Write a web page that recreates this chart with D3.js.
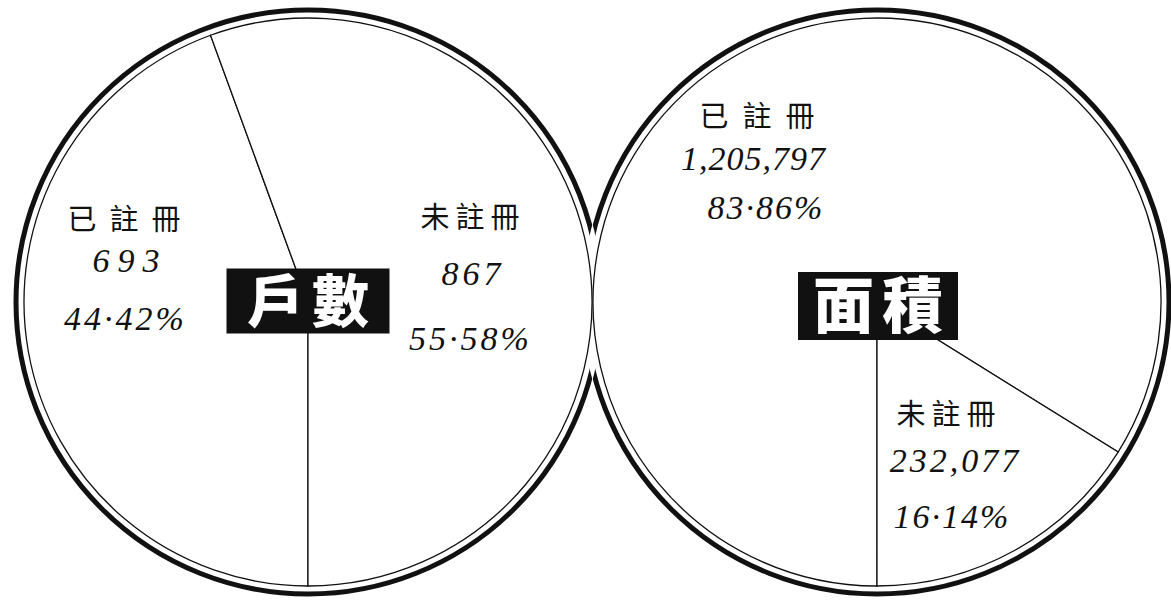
<!DOCTYPE html>
<html>
<head>
<meta charset="utf-8">
<script src="https://d3js.org/d3.v7.min.js"></script>
<style>
  body { margin: 0; background: #fff; }
  .hand { font-family: "Liberation Serif", "DejaVu Serif", serif; font-style: italic; fill: #111; }
  .cjk { font-family: "Noto Sans CJK TC", "Noto Sans CJK SC", sans-serif; fill: #111; }
  .title { font-family: "Noto Sans CJK TC", sans-serif; font-weight: 900; fill: #fff; }
</style>
</head>
<body>
<svg id="chart" width="1171" height="600"></svg>
<script>
// data
const categories = ['已註冊', '未註冊'];
const titles = ['戶數', '面積'];
const householdValues = [693, 867];
const areaValues = [1205797, 232077];

const width = 1171, height = 600;
const innerR = 284, ringR = 292, ringW = 5;

// layout: pie centres, title box and label offsets (name, value, percent) per category
const pies = [
  { title: titles[0], values: householdValues, cx: 308, cy: 302, box: [0, -1, 163, 65, 57, 8],
    labels: [
      { name: [-184, -72, 13], value: [-182, -30, 8], pct: [-184, 28, 3] },
      { name: [162, -74, 6], value: [163, -17, 4], pct: [161, 48, 3] }
    ] },
  { title: titles[1], values: areaValues, cx: 877, cy: 302, box: [1, 4, 160, 68, 61, 8],
    labels: [
      { name: [-120, -175, 14], value: [-124, -132, 1], pct: [-112, -83, 2] },
      { name: [69, 123, 6], value: [77, 170, 3], pct: [74, 226, 2] }
    ] }
];

const svg = d3.select('#chart');
svg.append('rect').attr('width', width).attr('height', height).attr('fill', '#fff');

const defs = svg.append('defs');
const pie = d3.pie().sort(null).startAngle(Math.PI).endAngle(3 * Math.PI);
const arc = d3.arc().innerRadius(0).outerRadius(innerR);
const fmtPct = v => d3.format('.2f')(v).replace('.', '·') + '%';
const fmtVal = d3.format(',');

pies.forEach((p, i) => {
  const other = pies[1 - i];

  // mask so the thick rim only draws outside the other circle
  const mask = defs.append('mask').attr('id', 'rim' + i);
  mask.append('rect').attr('width', width).attr('height', height).attr('fill', '#fff');
  mask.append('circle').attr('cx', other.cx).attr('cy', other.cy)
    .attr('r', ringR + ringW / 2 + 0.5).attr('fill', '#000');

  const g = svg.append('g').attr('transform', `translate(${p.cx},${p.cy})`);
  const total = d3.sum(p.values);
  const arcs = pie(p.values);

  g.selectAll('path.slice')
    .data(arcs)
    .enter()
    .append('path')
    .attr('class', 'slice')
    .attr('d', arc)
    .attr('fill', '#fff')
    .attr('stroke', '#111')
    .attr('stroke-width', 1.3);

  svg.append('circle')
    .attr('cx', p.cx).attr('cy', p.cy).attr('r', ringR)
    .attr('fill', 'none').attr('stroke', '#111').attr('stroke-width', ringW)
    .attr('mask', `url(#rim${i})`);

  // labels
  arcs.forEach((a, j) => {
    const L = p.labels[j];
    const put = (pos, txt, cls, size) => {
      g.append('text')
        .attr('class', cls)
        .attr('x', pos[0] + pos[2] / 2).attr('y', pos[1])
        .attr('text-anchor', 'middle')
        .style('font-size', size + 'px')
        .style('letter-spacing', pos[2] + 'px')
        .text(txt);
    };
    put(L.name, categories[j], 'cjk', 29);
    put(L.value, fmtVal(p.values[j]), 'hand', 34);
    put(L.pct, fmtPct(p.values[j] / total * 100), 'hand', 34);
  });

  // black title box
  const [bx, by, bw, bh, fs, ls] = p.box;
  g.append('rect')
    .attr('x', bx - bw / 2).attr('y', by - bh / 2)
    .attr('width', bw).attr('height', bh)
    .attr('fill', '#111');
  g.append('text')
    .attr('class', 'title')
    .attr('x', bx + ls / 2).attr('y', by)
    .attr('dy', '0.36em')
    .attr('text-anchor', 'middle')
    .style('font-size', fs + 'px')
    .style('letter-spacing', ls + 'px')
    .text(p.title);
});
</script>
</body>
</html>
